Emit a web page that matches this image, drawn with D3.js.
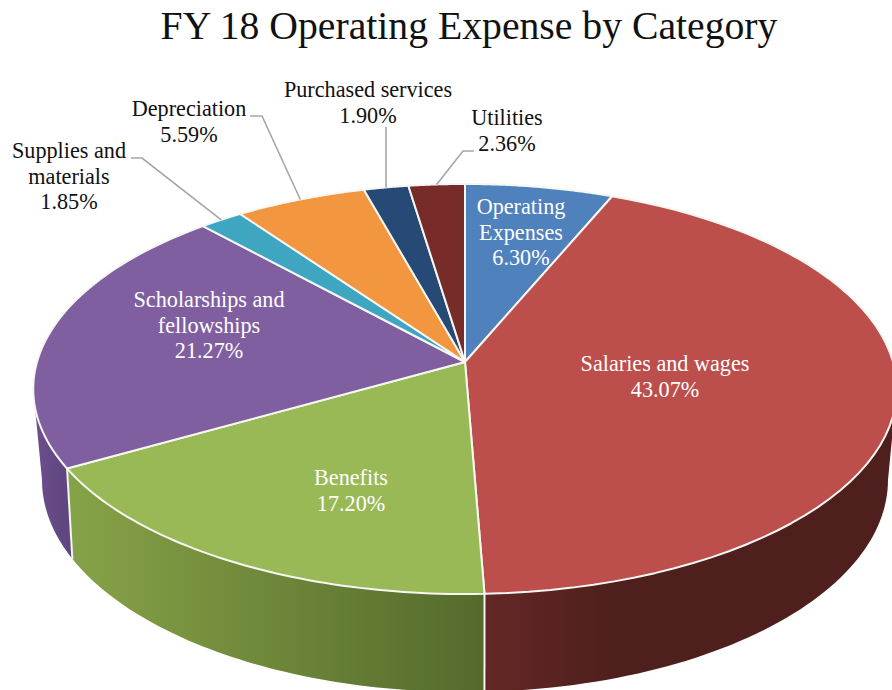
<!DOCTYPE html>
<html><head><meta charset="utf-8">
<script src="https://cdn.jsdelivr.net/npm/d3@7"></script>
<style>html,body{margin:0;background:#fff}svg{display:block}text{font-family:"Liberation Serif","Times New Roman",serif}</style>
</head><body><svg id="c" width="892" height="690"></svg>
<script>
const chartTitle = "FY 18 Operating Expense by Category";
const categories = ["Operating Expenses","Salaries and wages","Benefits","Scholarships and fellowships","Supplies and materials","Depreciation","Purchased services","Utilities"];
// printed labels
const percents = [6.30,43.07,17.20,21.27,1.85,5.59,1.90,2.36];
// slice sizes as measured on the picture (the printed labels sum to only 99.54)
const sliceShares = [6.30,43.07,17.40,21.50,1.85,5.59,1.90,2.39];
const labelLines = [["Operating","Expenses"],["Salaries and wages"],["Benefits"],["Scholarships and","fellowships"],["Supplies and","materials"],["Depreciation"],["Purchased services"],["Utilities"]];
const topColors = ["#4f81bd","#bc4f4b","#99b957","#7f5f9f","#3fa6c2","#f39640","#264a75","#772c2a"];
const wallStops = [["#3f6797","#3f6797"],["#632725","#4e1f1c"],["#87a347","#536a2c"],["#6d4f8e","#5f4680"],["#338ba0","#338ba0"],["#c47530","#c47530"],["#1e3b5d","#1e3b5d"],["#5f2321","#5f2321"]];
const labelAt = [[521,214],[665,371],[351,485],[209,307],[69,158],[189,116],[368,97],[507,125]];
const labelInside = [true,true,true,true,false,false,false,false];
const leaderBends = [null,null,null,null,[[131,158],[142,158]],[[250,116],[262,116]],[[386,127],[386,160]],[[474,151],[463,151]]];

const svg = d3.select("#c"), defs = svg.append("defs");
const pie = d3.pie().sort(null).value(d=>d).startAngle(0).endAngle(2*Math.PI);
const arcs = pie(sliceShares);

// perspective projection of a unit disc
const topDisc = {x0:465,y0:362,p:-153.8,q:0.1317,r:428};
const baseDisc = {x0:465,y0:448.2,p:-140,q:0.15,r:418.2};
const project = (disc,t)=>{
  const u=Math.sin(t), v=Math.cos(t), w=1+disc.q*v;
  return [disc.x0+disc.r*u/w, (disc.y0+disc.p*v)/w];
};
const line = d3.line();
const rim = (disc,a,b)=>d3.range(0,61).map(i=>project(disc,a+(b-a)*i/60));
// angles where a rim reaches its widest point: the wall is only visible between them
const widestRight = disc=>Math.acos(-disc.q);
const widestLeft = disc=>2*Math.PI-Math.acos(-disc.q);
const clampTo = (disc,t)=>Math.max(widestRight(disc),Math.min(widestLeft(disc),t));

// side walls
arcs.forEach((d,i)=>{
  if(d.endAngle<=widestRight(topDisc) || d.startAngle>=widestLeft(topDisc)) return;
  const top=rim(topDisc,clampTo(topDisc,d.startAngle),clampTo(topDisc,d.endAngle));
  const base=rim(baseDisc,clampTo(baseDisc,d.startAngle),clampTo(baseDisc,d.endAngle)).reverse();
  const xs=top.map(p=>p[0]);
  const g=defs.append("linearGradient").attr("id","w"+i).attr("gradientUnits","userSpaceOnUse")
    .attr("x1",i===1?485:d3.min(xs)).attr("x2",i===1?620:d3.max(xs)).attr("y1",0).attr("y2",0);
  g.append("stop").attr("offset",0).attr("stop-color",wallStops[i][0]);
  g.append("stop").attr("offset",1).attr("stop-color",wallStops[i][1]);
  svg.append("path").attr("d",line(top.concat(base))+"Z").attr("fill",`url(#w${i})`);
});
// seams on the visible front of the wall
[1,2].forEach(i=>{
  const t=arcs[i].endAngle;
  svg.append("line").attr("x1",project(topDisc,t)[0]).attr("y1",project(topDisc,t)[1])
    .attr("x2",project(baseDisc,t)[0]).attr("y2",project(baseDisc,t)[1])
    .attr("stroke","#f4f4f0").attr("stroke-width",2);
});
// top faces
arcs.forEach((d,i)=>{
  const pts=[[topDisc.x0,topDisc.y0]].concat(rim(topDisc,d.startAngle,d.endAngle));
  svg.append("path").attr("d",line(pts)+"Z").attr("fill",topColors[i])
    .attr("stroke","#f6f6f2").attr("stroke-width",2).attr("stroke-linejoin","round");
});
// leader lines
arcs.forEach((d,i)=>{
  if(!leaderBends[i]) return;
  const end=project(topDisc,(d.startAngle+d.endAngle)/2);
  if(i===6) end[0]=leaderBends[i][1][0];
  svg.append("path").attr("d",line(leaderBends[i].concat([end]))).attr("fill","none")
    .attr("stroke","#a6a6a6").attr("stroke-width",1.6);
});
// labels
categories.forEach((c,i)=>{
  const lines=labelLines[i].concat([percents[i].toFixed(2)+"%"]);
  const t=svg.append("text").attr("text-anchor","middle").attr("font-size",22.2)
    .attr("fill",labelInside[i]?"#fff":"#111");
  lines.forEach((s,k)=>t.append("tspan").attr("x",labelAt[i][0]).attr("y",labelAt[i][1]+k*25.7).text(s));
});
svg.append("text").attr("x",469).attr("y",39).attr("text-anchor","middle").attr("font-size",39.7).attr("fill","#111").text(chartTitle);
</script></body></html>
